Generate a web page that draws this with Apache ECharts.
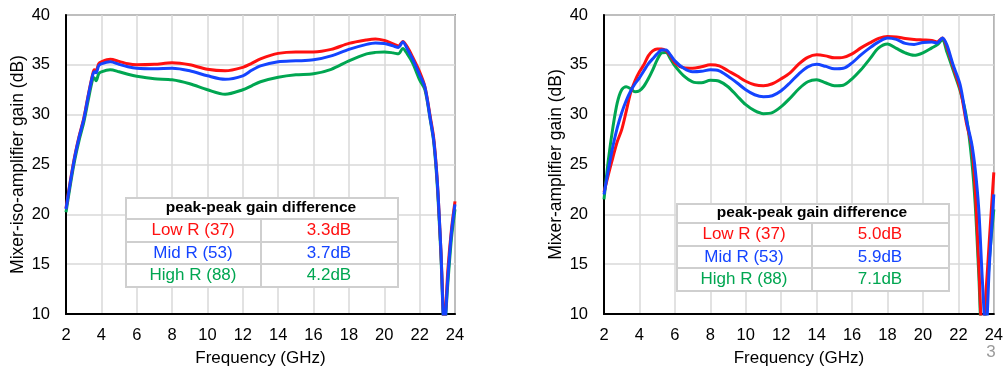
<!DOCTYPE html>
<html>
<head>
<meta charset="utf-8">
<script src="https://cdn.jsdelivr.net/npm/echarts@6/dist/echarts.min.js"></script>
<style>
  html, body { margin: 0; padding: 0; background: #fff; }
  #chart { width: 1006px; height: 374px; }
</style>
</head>
<body>
<div id="chart"></div>
<script>
// ---- Left panel: mixer + isolation amplifier gain vs frequency ----
const freqIso = [2, 2.25, 2.5, 2.75, 3, 3.25, 3.5, 3.6, 3.7, 3.85, 4, 4.5, 5, 5.5, 6, 7, 8, 9, 10, 11, 12, 12.5, 13, 14, 15, 16, 17, 18, 19, 19.5, 20, 20.5, 20.8, 21.05, 21.3, 21.6, 22, 22.3, 22.6, 22.8, 23.0, 23.2, 23.4, 23.6, 23.8, 24];
const isoLowR  = [20.6, 23.4, 25.9, 27.9, 29.6, 31.9, 34.0, 34.5, 34.4, 35.1, 35.3, 35.55, 35.35, 35.1, 35.0, 35.05, 35.2, 35.0, 34.55, 34.4, 34.75, 35.15, 35.6, 36.15, 36.3, 36.3, 36.55, 37.15, 37.5, 37.6, 37.45, 37.1, 36.9, 37.35, 36.8, 35.8, 34.3, 32.8, 29.8, 27.6, 23.3, 16.5, 9.0, 14.5, 18.5, 21.3];
const isoMidR  = [20.5, 23.3, 25.8, 27.8, 29.5, 31.8, 33.9, 34.3, 34.2, 34.9, 35.1, 35.3, 35.05, 34.8, 34.65, 34.6, 34.65, 34.4, 33.9, 33.55, 33.9, 34.45, 34.9, 35.3, 35.4, 35.5, 35.9, 36.55, 37.05, 37.2, 37.15, 36.9, 36.75, 37.3, 36.6, 35.6, 34.0, 32.75, 29.6, 27.4, 23.2, 16.5, 8.5, 13.8, 18.2, 21.0];
const isoHighR = [20.2, 23.0, 25.5, 27.5, 29.2, 31.4, 33.5, 33.7, 33.4, 34.1, 34.3, 34.5, 34.3, 34.05, 33.85, 33.6, 33.5, 33.1, 32.5, 32.05, 32.5, 32.9, 33.3, 33.75, 34.0, 34.1, 34.55, 35.4, 36.1, 36.25, 36.3, 36.2, 36.1, 36.65, 36.1, 35.2, 33.5, 32.5, 29.5, 27.2, 22.8, 16.0, 8.5, 13.2, 17.6, 20.5];

// ---- Right panel: mixer + amplifier gain vs frequency ----
const freqAmp = [2, 2.25, 2.5, 2.75, 3, 3.25, 3.5, 3.75, 4, 4.25, 4.5, 4.75, 5, 5.25, 5.5, 5.75, 6, 6.5, 7, 7.5, 8, 8.5, 9, 9.5, 10, 10.5, 11, 11.5, 12, 12.5, 13, 13.5, 14, 14.5, 15, 15.5, 16, 16.5, 17, 17.5, 18, 18.5, 19, 19.5, 20, 20.5, 20.8, 21.1, 21.35, 21.7, 22.1, 22.45, 22.75, 22.95, 23.15, 23.35, 23.55, 23.75, 24];
const ampLowR  = [22.2, 24.0, 25.7, 27.3, 28.5, 30.3, 32.2, 33.4, 34.3, 35.0, 35.9, 36.4, 36.6, 36.6, 36.4, 35.9, 35.2, 34.7, 34.65, 34.8, 35.0, 34.9, 34.4, 33.9, 33.35, 33.0, 32.9, 33.1, 33.6, 34.2, 35.1, 35.75, 36.0, 35.9, 35.7, 35.75, 36.1, 36.7, 37.2, 37.65, 37.85, 37.8, 37.65, 37.55, 37.5, 37.45, 37.3, 37.7, 36.8, 34.8, 32.6, 29.2, 26.8, 22.4, 15.0, 8.0, 12.0, 17.5, 24.2];
const ampMidR  = [22.0, 24.5, 26.8, 28.7, 30.2, 31.4, 32.35, 33.1, 33.7, 34.4, 35.1, 35.6, 36.1, 36.5, 36.5, 36.0, 35.4, 34.65, 34.3, 34.35, 34.5, 34.4, 33.85, 33.2, 32.5, 32.0, 31.8, 31.9, 32.4, 33.2, 34.1, 34.8, 35.05, 34.85, 34.6, 34.65, 35.2, 36.0, 36.7, 37.3, 37.7, 37.55, 37.15, 37.05, 37.25, 37.3, 37.2, 37.7, 37.0, 35.0, 33.0, 29.5, 27.1, 24.5, 20.5, 13.5, 8.0, 15.0, 22.0];
const ampHighR = [21.5, 25.5, 28.7, 31.2, 32.5, 32.8, 32.6, 32.3, 32.4, 32.85, 33.6, 34.5, 35.5, 36.2, 36.25, 35.6, 34.9, 33.9, 33.3, 33.2, 33.45, 33.35, 32.8, 31.9, 31.0, 30.4, 30.1, 30.2, 30.8, 31.65, 32.6, 33.3, 33.5, 33.2, 32.9, 32.95, 33.6, 34.5, 35.6, 36.7, 37.1, 36.65, 36.2, 35.95, 36.2, 36.7, 37.0, 37.5, 36.3, 34.5, 32.4, 29.8, 25.5, 21.0, 14.0, 7.0, 10.0, 15.5, 20.5];

// ---- Table contents ----
const rowLabels = ['Low R (37)', 'Mid R (53)', 'High R (88)'];
const isoDiff = ['3.3dB', '3.7dB', '4.2dB'];
const ampDiff = ['5.0dB', '5.9dB', '7.1dB'];
const tableTitle = 'peak-peak gain difference';
const xTicks = [2, 4, 6, 8, 10, 12, 14, 16, 18, 20, 22, 24];
const yTicks = [10, 15, 20, 25, 30, 35, 40];
const pageNumber = '3';

const COLORS = { low: '#ff1010', mid: '#1444ff', high: '#00a651' };
const FONT = '"Liberation Sans", Arial, sans-serif';

function pairs(xs, ys) { return xs.map((x, i) => [x, ys[i]]); }

function xAxisFor(gridIndex) {
  return {
    type: 'value', gridIndex,
    min: xTicks[0], max: xTicks[xTicks.length - 1], interval: 2,
    name: 'Frequency (GHz)', nameLocation: 'middle', nameGap: 36,
    nameTextStyle: { fontFamily: FONT, fontSize: 17, color: '#000' },
    axisLine: { show: true, onZero: false, lineStyle: { color: '#000', width: 2 } },
    axisTick: { show: false },
    axisLabel: { margin: 13, fontFamily: FONT, fontSize: 16.5, color: '#000' },
    splitLine: { show: true, lineStyle: { color: '#d8d8d8', width: 1.5 } }
  };
}
function yAxisFor(gridIndex, title) {
  return {
    type: 'value', gridIndex,
    min: yTicks[0], max: yTicks[yTicks.length - 1], interval: 5,
    name: title, nameLocation: 'middle', nameGap: 39, nameRotate: 90,
    nameTextStyle: { fontFamily: FONT, fontSize: 17.5, color: '#000' },
    axisLine: { show: true, onZero: false, lineStyle: { color: '#000', width: 2 } },
    axisTick: { show: false },
    axisLabel: { margin: 16, fontFamily: FONT, fontSize: 16.5, color: '#000' },
    splitLine: { show: true, lineStyle: { color: '#d8d8d8', width: 1.5 } }
  };
}
function lineSeries(idx, xs, ys, color) {
  return {
    type: 'line', xAxisIndex: idx, yAxisIndex: idx,
    data: pairs(xs, ys), showSymbol: false, smooth: 0.3, clip: true,
    lineStyle: { color, width: 3 }, z: 3
  };
}

// Summary table drawn as graphic elements over a plot
function buildTable(left, right, colDiv, rowYs, values) {
  const els = [];
  const border = { stroke: '#cfcfcf', lineWidth: 2 };
  els.push({ type: 'rect', left, top: rowYs[0], z: 50,
    shape: { x: 0, y: 0, width: right - left, height: rowYs[rowYs.length - 1] - rowYs[0] },
    style: { fill: '#fff', stroke: '#cfcfcf', lineWidth: 2 } });
  for (let i = 1; i < rowYs.length - 1; i++) {
    els.push({ type: 'line', z: 51, shape: { x1: left, y1: rowYs[i], x2: right, y2: rowYs[i] }, style: border });
  }
  els.push({ type: 'line', z: 51, shape: { x1: colDiv, y1: rowYs[1], x2: colDiv, y2: rowYs[rowYs.length - 1] }, style: border });
  els.push({ type: 'text', z: 52, x: (left + right) / 2, y: (rowYs[0] + rowYs[1]) / 2,
    style: { text: tableTitle, font: 'bold 15.5px ' + FONT, fill: '#000', align: 'center', verticalAlign: 'middle' } });
  const cols = [COLORS.low, COLORS.mid, COLORS.high];
  for (let r = 0; r < rowLabels.length; r++) {
    const cy = (rowYs[r + 1] + rowYs[r + 2]) / 2;
    els.push({ type: 'text', z: 52, x: (left + colDiv) / 2, y: cy,
      style: { text: rowLabels[r], font: '17px ' + FONT, fill: cols[r], align: 'center', verticalAlign: 'middle' } });
    els.push({ type: 'text', z: 52, x: (colDiv + right) / 2, y: cy,
      style: { text: values[r], font: '17px ' + FONT, fill: cols[r], align: 'center', verticalAlign: 'middle' } });
  }
  return els;
}

const chart = echarts.init(document.getElementById('chart'), null, { renderer: 'canvas' });
chart.setOption({
  animation: false,
  backgroundColor: '#fff',
  grid: [
    { left: 66, top: 15, width: 389, height: 299, show: true, borderColor: '#404040', borderWidth: 1.5, backgroundColor: 'transparent' },
    { left: 604, top: 15, width: 390, height: 299, show: true, borderColor: '#404040', borderWidth: 1.5, backgroundColor: 'transparent' }
  ],
  xAxis: [xAxisFor(0), xAxisFor(1)],
  yAxis: [yAxisFor(0, 'Mixer-iso-amplifier gain (dB)'), yAxisFor(1, 'Mixer-amplifier gain (dB)')],
  series: [
    lineSeries(0, freqIso, isoHighR, COLORS.high),
    lineSeries(0, freqIso, isoLowR, COLORS.low),
    lineSeries(0, freqIso, isoMidR, COLORS.mid),
    lineSeries(1, freqAmp, ampHighR, COLORS.high),
    lineSeries(1, freqAmp, ampLowR, COLORS.low),
    lineSeries(1, freqAmp, ampMidR, COLORS.mid)
  ],
  graphic: [
    ...buildTable(125, 397, 261, [197, 219, 242, 264, 286], isoDiff),
    ...buildTable(676, 948, 812, [203, 223, 246, 268, 290], ampDiff),
    { type: 'text', z: 52, x: 991, y: 352,
      style: { text: pageNumber, font: '17px ' + FONT, fill: '#9a9a9a', align: 'center', verticalAlign: 'middle' } }
  ]
});
</script>
</body>
</html>
